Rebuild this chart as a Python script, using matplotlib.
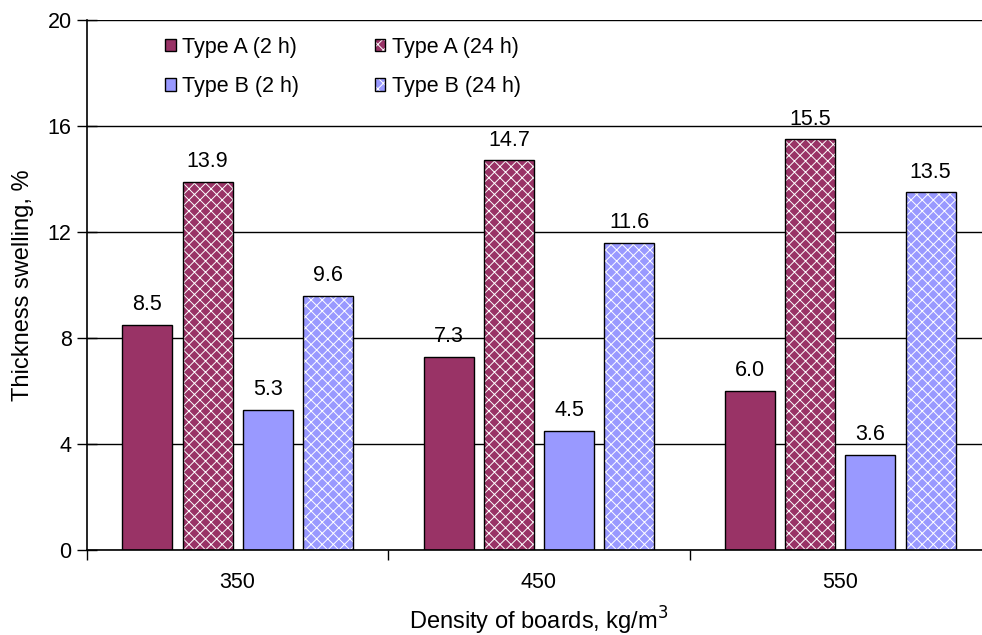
import numpy as np
import matplotlib.pyplot as plt
from matplotlib.patches import Patch

plt.rcParams['font.family'] = ['Liberation Sans', 'DejaVu Sans']
plt.rcParams['hatch.color'] = 'white'
plt.rcParams['hatch.linewidth'] = 0.7

densities = ['350', '450', '550']
series = ['Type A (2 h)', 'Type A (24 h)', 'Type B (2 h)', 'Type B (24 h)']
type_a_2h = [8.5, 7.3, 6.0]
type_a_24h = [13.9, 14.7, 15.5]
type_b_2h = [5.3, 4.5, 3.6]
type_b_24h = [9.6, 11.6, 13.5]

values = [type_a_2h, type_a_24h, type_b_2h, type_b_24h]
colors = ['#993366', '#993366', '#9999FF', '#9999FF']
hatches = [None, 'xxx', None, 'xxx']

fig = plt.figure(figsize=(9.82, 6.35), dpi=100)
ax = fig.add_axes([0.0886, 0.1339, 0.9205, 0.8346])

x = np.arange(len(densities))
w = 0.166
offsets = [-0.3, -0.1, 0.1, 0.3]
handles = []
for vals, col, h, off, name in zip(values, colors, hatches, offsets, series):
    ax.bar(x + off, vals, w, color=col, hatch=h, edgecolor='white', linewidth=0, zorder=2)
    ax.bar(x + off, vals, w, facecolor='none', edgecolor='black', linewidth=1.0, zorder=3)
    for xi, v in zip(x + off, vals):
        ax.annotate(f'{v:.1f}', (xi, v), xytext=(0, 7), textcoords='offset points',
                    ha='center', va='bottom', fontsize=15.5)
    handles.append((Patch(facecolor=col, hatch=h, edgecolor='white', linewidth=0),
                    Patch(facecolor='none', edgecolor='black', linewidth=1.0)))

ax.set_xlim(-0.5, 2.5)
ax.set_ylim(0, 20)
ax.set_yticks([0, 4, 8, 12, 16, 20])
ax.yaxis.grid(True, color='black', linewidth=1.0, zorder=0)
ax.set_axisbelow(True)
ax.set_xticks(x)
ax.set_xticklabels(densities)
ax.set_xticks([-0.5, 0.5, 1.5, 2.5], minor=True)
ax.tick_params(axis='x', which='major', length=0, pad=16, labelsize=15.5)
ax.tick_params(axis='x', which='minor', length=7, width=1, direction='out')
ax.tick_params(axis='y', length=14, width=1, direction='inout', labelsize=15.5, pad=4)
for s in ['top', 'right']:
    ax.spines[s].set_visible(False)
ax.spines['left'].set_linewidth(1.2)
ax.spines['bottom'].set_linewidth(1.2)

ax.set_ylabel('Thickness swelling, %', fontsize=17, labelpad=10)
ax.set_xlabel('Density of boards, kg/m$^3$', fontsize=17, labelpad=8)

# legend filled row by row: A 2h, A 24h / B 2h, B 24h
order = [0, 2, 1, 3]
ax.legend([handles[i] for i in order], [series[i] for i in order], ncol=2,
          loc='upper left', bbox_to_anchor=(0.065, 1.005),
          frameon=False, fontsize=15.5, handlelength=0.5, handleheight=0.5,
          handletextpad=0.3, columnspacing=3.5, labelspacing=0.85)

fig.savefig('out.png', dpi=100)
